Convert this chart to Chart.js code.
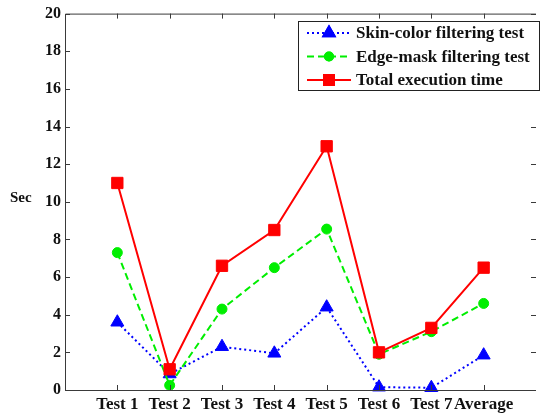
<!DOCTYPE html>
<html>
<head>
    <meta charset="utf-8" />
    <title>Execution time</title>
    <style>
        html, body { margin: 0; padding: 0; background: #fff; overflow: hidden; }
        #wrap { width: 545px; height: 414px; }
    </style>
</head>
<body>
    <div id="wrap"><canvas id="chart"></canvas></div>

    <script src="https://cdn.jsdelivr.net/npm/chart.js"></script>
    <script type="text/javascript">
        // datos
        var categorias = ['Test 1', 'Test 2', 'Test 3', 'Test 4', 'Test 5', 'Test 6', 'Test 7', 'Average'];
        var skinColor = [3.6, 0.85, 2.3, 1.95, 4.4, 0.15, 0.12, 1.85];
        var edgeMask = [7.3, 0.25, 4.3, 6.5, 8.55, 1.9, 3.1, 4.6];
        var totalTime = [11.0, 1.1, 6.6, 8.5, 12.95, 2.0, 3.3, 6.5];
        var yTicks = [0, 2, 4, 6, 8, 10, 12, 14, 16, 18, 20];

        var serif = '"Liberation Serif", "Times New Roman", serif';

        function puntos(arr) {
            return arr.map(function (v, i) { return { x: i, y: v }; });
        }

        var series = [
            { label: 'Skin-color filtering test', data: skinColor, color: '#0000ff', dash: [2, 3], pointStyle: 'triangle', radius: 7.5, order: 2 },
            { label: 'Edge-mask filtering test', data: edgeMask, color: '#00ee00', dash: [7, 4], pointStyle: 'circle', radius: 5, order: 1 },
            { label: 'Total execution time', data: totalTime, color: '#ff0000', dash: [], pointStyle: 'rect', radius: 8, order: 0 }
        ];

        // marco, ticks hacia adentro, etiqueta "Sec" y leyenda
        var marco = {
            id: 'marco',
            afterDraw: function (chart) {
                var ctx = chart.ctx;
                var a = chart.chartArea;
                var xs = chart.scales.x, ys = chart.scales.y;
                ctx.save();
                ctx.strokeStyle = '#3a3a3a';
                ctx.lineWidth = 1;
                ctx.beginPath();
                ctx.moveTo(a.right, a.top + 0.5);
                ctx.lineTo(a.left + 0.5, a.top + 0.5);
                ctx.lineTo(a.left + 0.5, a.bottom + 0.5);
                ctx.lineTo(a.right, a.bottom + 0.5);
                ctx.stroke();
                ctx.beginPath();
                categorias.forEach(function (c, i) {
                    var x = Math.round(xs.getPixelForValue(i)) + 0.5;
                    ctx.moveTo(x, a.bottom); ctx.lineTo(x, a.bottom - 5);
                    ctx.moveTo(x, a.top); ctx.lineTo(x, a.top + 5);
                });
                yTicks.forEach(function (t) {
                    var y = Math.round(ys.getPixelForValue(t)) + 0.5;
                    ctx.moveTo(a.left, y); ctx.lineTo(a.left + 5, y);
                    ctx.moveTo(a.right, y); ctx.lineTo(a.right - 5, y);
                });
                ctx.stroke();

                ctx.fillStyle = '#111';
                ctx.font = 'bold 15px ' + serif;
                ctx.textAlign = 'left';
                ctx.textBaseline = 'middle';
                ctx.fillText('Sec', 10, 198);

                // leyenda
                var bx = 298, by = 21, bw = 241, bh = 69;
                ctx.fillStyle = '#fff';
                ctx.fillRect(bx, by, bw, bh);
                ctx.strokeStyle = '#222';
                ctx.strokeRect(bx + 0.5, by + 0.5, bw, bh);
                series.forEach(function (s, i) {
                    var y = 33 + i * 23.5;
                    ctx.strokeStyle = s.color;
                    ctx.lineWidth = 2;
                    ctx.setLineDash(s.dash);
                    ctx.beginPath();
                    ctx.moveTo(307, y); ctx.lineTo(351, y);
                    ctx.stroke();
                    ctx.setLineDash([]);
                    Chart.helpers.drawPoint(ctx, { pointStyle: s.pointStyle, radius: s.radius - 1, borderWidth: 1 }, 329, y);
                    ctx.fillStyle = s.color;
                    ctx.strokeStyle = s.color;
                    ctx.fill();
                    ctx.stroke();
                    ctx.fillStyle = '#111';
                    ctx.font = 'bold 17px ' + serif;
                    ctx.fillText(s.label, 356, y + 1);
                });
                ctx.restore();
            }
        };

        var ctx = document.getElementById('chart').getContext('2d');
        var myChart = new Chart(ctx, {
            type: 'line',
            data: {
                datasets: series.map(function (s) {
                    return {
                        label: s.label,
                        data: puntos(s.data),
                        borderColor: s.color,
                        backgroundColor: s.color,
                        borderWidth: 2,
                        borderDash: s.dash,
                        pointStyle: s.pointStyle,
                        pointRadius: s.radius,
                        pointBorderWidth: 1,
                        pointBorderColor: s.color,
                        pointBackgroundColor: s.color,
                        tension: 0,
                        clip: false,
                        order: s.order
                    };
                })
            },
            options: {
                responsive: true,
                maintainAspectRatio: false,
                animation: false,
                layout: { padding: { top: 13, right: 2, left: 0, bottom: 0 } },
                plugins: { legend: { display: false }, tooltip: { enabled: false } },
                scales: {
                    x: {
                        type: 'linear',
                        min: -1,
                        max: 8,
                        grid: { display: false, drawTicks: false },
                        border: { display: false },
                        afterFit: function (scale) { scale.height = 24; },
                        afterBuildTicks: function (scale) {
                            scale.ticks = categorias.map(function (c, i) { return { value: i }; });
                        },
                        ticks: {
                            autoSkip: false,
                            maxRotation: 0,
                            padding: 4,
                            color: '#111',
                            font: { family: serif, size: 17, weight: 'bold' },
                            callback: function (v) { return categorias[v] || ''; }
                        }
                    },
                    y: {
                        min: 0,
                        max: 20,
                        grid: { display: false, drawTicks: false },
                        border: { display: false },
                        afterFit: function (scale) { scale.width = 65; },
                        afterBuildTicks: function (scale) {
                            scale.ticks = yTicks.map(function (t) { return { value: t }; });
                        },
                        ticks: {
                            padding: 4,
                            color: '#111',
                            font: { family: serif, size: 16, weight: 'bold' }
                        }
                    }
                }
            },
            plugins: [marco]
        });
    </script>
</body>
</html>
